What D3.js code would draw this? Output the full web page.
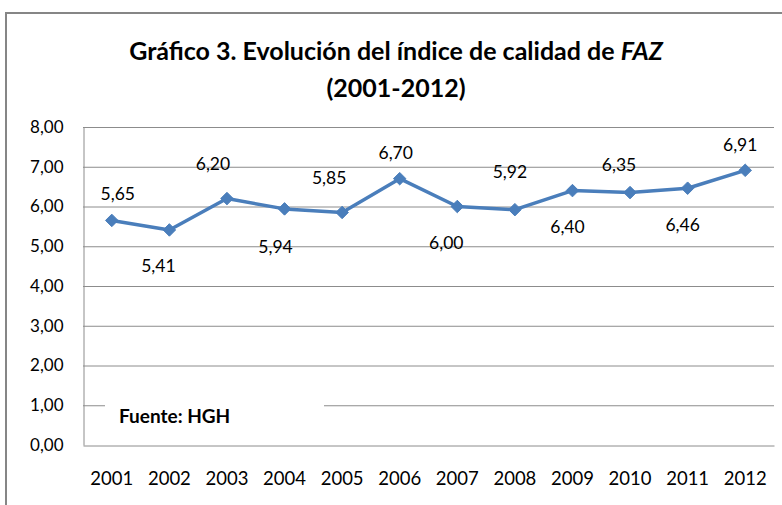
<!DOCTYPE html>
<html>
<head>
<meta charset="utf-8">
<script src="https://cdn.jsdelivr.net/npm/d3@7"></script>
<style>
  html, body { margin: 0; padding: 0; background: #fff; }
  svg { display: block; }
  text { font-family: Lato, "Open Sans", sans-serif; fill: #000; }
</style>
</head>
<body>
<svg id="chart" width="782" height="505"></svg>
<script>
// ---- data ----
const years = ["2001","2002","2003","2004","2005","2006","2007","2008","2009","2010","2011","2012"];
const values = [5.65, 5.41, 6.20, 5.94, 5.85, 6.70, 6.00, 5.92, 6.40, 6.35, 6.46, 6.91];
const yTicks = [0, 1, 2, 3, 4, 5, 6, 7, 8];
const titleLines = ["Gráfico 3. Evolución del índice de calidad de ", "(2001-2012)"];
const titleItalic = "FAZ";
const sourceText = "Fuente: HGH";
// label placement (manual, as in the original): dx, dy offsets from the marker
const labelDx = [6, -11, -14, -9, -13, -4, -11, -5, -5, -11, -5, -5];
const labelDy = [-20, 42, -29, 44, -28, -20, 42, -32, 42, -22, 43, -19];

const fmt = v => d3.format(".2f")(v).replace(".", ",");

const svg = d3.select("#chart");
const plot = { left: 83, right: 774, top: 127, bottom: 445 };

// outer frame
svg.append("rect").attr("x", 6).attr("y", 13).attr("width", 800).attr("height", 520)
  .attr("fill", "none").attr("stroke", "#868686").attr("stroke-width", 2);

const x = d3.scaleBand().domain(years).range([plot.left, plot.right]);
const y = d3.scaleLinear().domain([0, 8]).range([plot.bottom, plot.top]);

// gridlines
svg.append("g").selectAll("line").data(yTicks.filter(d => d > 0)).join("line")
  .attr("x1", plot.left).attr("x2", plot.right)
  .attr("y1", d => y(d) + 0.5).attr("y2", d => y(d) + 0.5)
  .attr("stroke", "#8c8c8c").attr("stroke-width", 1);

// y axis
const yAxis = d3.axisLeft(y).tickValues(yTicks).tickFormat(fmt).tickSize(0).tickPadding(20);
const gy = svg.append("g").attr("transform", `translate(${plot.left + 0.5},0)`).call(yAxis);
gy.select(".domain").attr("stroke", "#8c8c8c");
gy.selectAll("text").attr("font-size", 17).attr("font-family", "Lato, sans-serif").attr("fill", "#000");

// x axis
const xAxis = d3.axisBottom(x).tickSize(0).tickPadding(26);
const gx = svg.append("g").attr("transform", `translate(0,${plot.bottom + 0.5})`).call(xAxis);
gx.select(".domain").attr("stroke", "#8c8c8c");
gx.selectAll("text").attr("font-size", 18.5).attr("font-family", "Lato, sans-serif").attr("fill", "#000");

// source box
svg.append("rect").attr("x", 105).attr("y", 396).attr("width", 219).attr("height", 42).attr("fill", "#fff");
svg.append("text").attr("x", 119).attr("y", 423).attr("font-size", 19).attr("font-weight", "bold")
  .text(sourceText);

// line
const cx = (d, i) => x(years[i]) + x.bandwidth() / 2;
const line = d3.line().x((d, i) => cx(d, i)).y(d => y(d));
svg.append("path").datum(values).attr("d", line)
  .attr("fill", "none").attr("stroke", "#4a7ebb").attr("stroke-width", 3.5)
  .attr("stroke-linejoin", "round");

// markers
const diamond = d3.symbol().type(d3.symbolDiamond2).size(100);
svg.append("g").selectAll("path").data(values).join("path")
  .attr("d", diamond)
  .attr("transform", (d, i) => `translate(${cx(d, i)},${y(d)})`)
  .attr("fill", "#4a7ebb").attr("stroke", "#4a7ebb").attr("stroke-width", 1);

// data labels
svg.append("g").selectAll("text").data(values).join("text")
  .attr("x", (d, i) => cx(d, i) + labelDx[i])
  .attr("y", (d, i) => y(d) + labelDy[i])
  .attr("text-anchor", "middle").attr("font-size", 17.5)
  .text(d => fmt(d));

// title
const t1 = svg.append("text").attr("x", 396).attr("y", 60).attr("text-anchor", "middle")
  .attr("font-size", 25).attr("font-weight", "bold");
t1.append("tspan").text(titleLines[0]);
t1.append("tspan").attr("font-style", "italic").text(titleItalic);
svg.append("text").attr("x", 396).attr("y", 97).attr("text-anchor", "middle")
  .attr("font-size", 25).attr("font-weight", "bold").text(titleLines[1]);
</script>
</body>
</html>
